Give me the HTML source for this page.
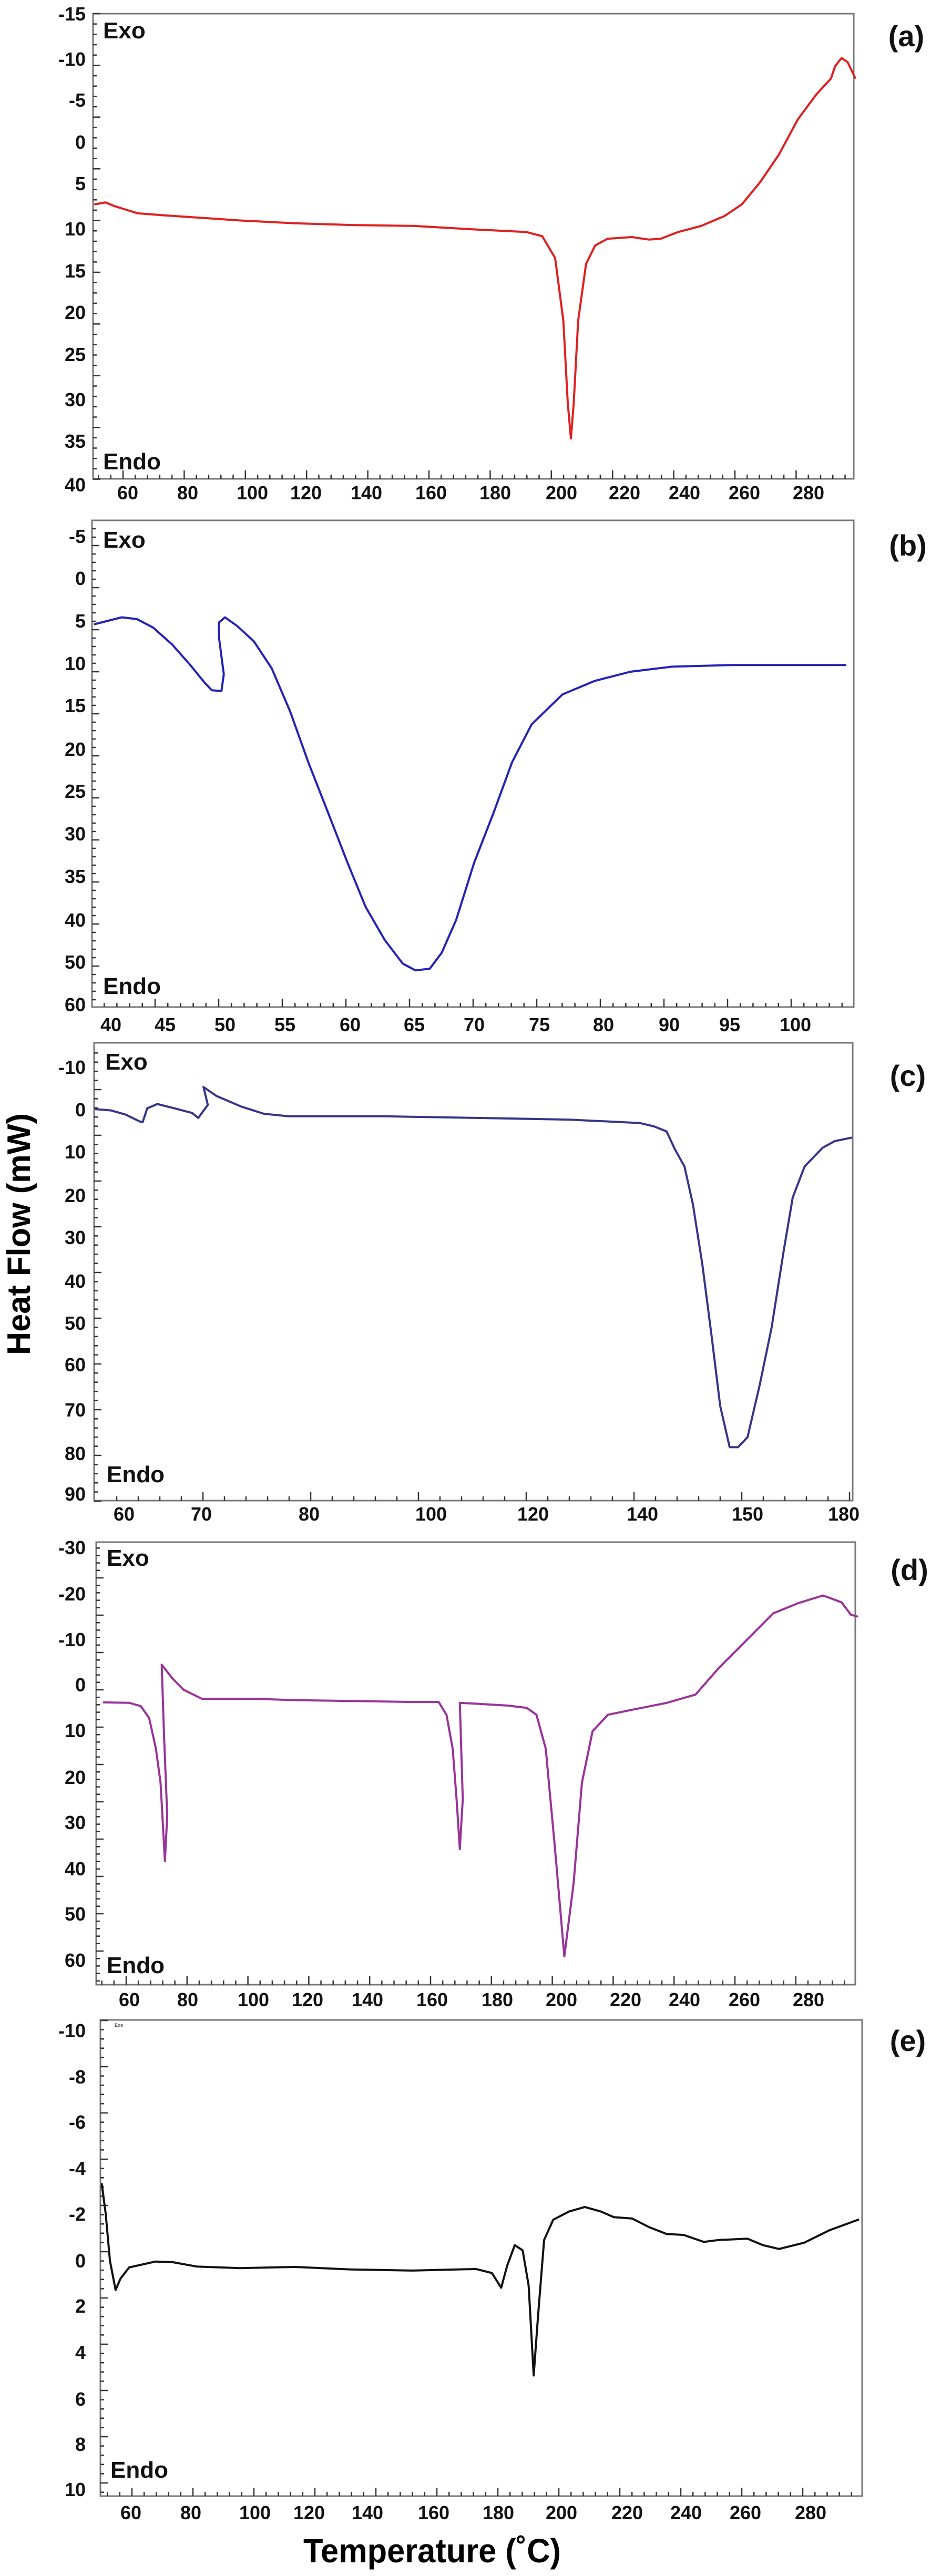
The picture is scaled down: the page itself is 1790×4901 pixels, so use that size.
<!DOCTYPE html>
<html><head><meta charset="utf-8"><style>
html,body{margin:0;padding:0;background:#fff;}
svg{display:block;font-family:"Liberation Sans",Arial,sans-serif;font-weight:bold;}
</style></head><body>
<svg id="fig" xmlns="http://www.w3.org/2000/svg" width="1790" height="4901" viewBox="0 0 1790 4901">
<rect width="1790" height="4901" fill="#fff"/>
<text transform="translate(57,2348) rotate(-90)" text-anchor="middle" font-size="62" textLength="460" lengthAdjust="spacingAndGlyphs" fill="#000">Heat Flow (mW)</text>
<text x="822" y="4875" text-anchor="middle" font-size="64" textLength="490" lengthAdjust="spacingAndGlyphs" fill="#000">Temperature (˚C)</text>
</svg>
<script>
// ---- data: panel (a)
const aTemp=[49.1,52.6,55.5,63.3,71.1,96.3,115.7,135.1,154.5,173.9,189.4,194.2,198.1,200.6,202.0,203.0,203.9,205.3,207.8,210.7,214.6,222.4,228.2,232.1,237.9,245.6,253.4,259.2,265.0,270.8,276.7,282.5,287.0,288.3,290.3,292.2,294.5];
const aFlow=[7.3,7.1,7.5,8.3,8.5,9.1,9.4,9.6,9.7,10.1,10.4,10.9,13.5,21.0,30.4,34.7,30.4,21.0,14.2,12.0,11.2,11.0,11.3,11.2,10.4,9.7,8.6,7.3,4.8,1.5,-2.7,-5.7,-7.6,-9.1,-10.1,-9.6,-7.7];
const aYTicks=[-15,-10,-5,0,5,10,15,20,25,30,35,40];
const aXTicks=[60,80,100,120,140,160,180,200,220,240,260,280];
// ---- data: panel (b)
const bTemp=[38.5,41.0,42.4,43.9,45.6,47.1,48.3,48.9,49.7,49.9,49.5,49.5,50.0,51.0,52.4,53.9,55.4,56.8,58.3,59.8,61.2,62.7,64.1,65.1,66.3,67.3,68.5,70.0,71.5,72.9,74.4,76.8,79.3,84.1,90.2,95.2,103.8];
const bFlow=[5.4,4.6,4.8,5.8,7.8,10.2,12.3,13.2,13.3,11.3,7.0,5.2,4.6,5.6,7.4,10.6,15.7,21.6,27.5,33.4,38.5,44.8,50.4,52,51.6,47.8,40,33.4,27.5,21.6,17.2,13.7,12.1,11.0,10.4,10.2,10.2];
const bYTicks=[-5,0,5,10,15,20,25,30,35,40,50,60];
const bXTicks=[40,45,50,55,60,65,70,75,80,90,95,100];
// ---- data: panel (c)
const cTemp=[56.3,58.3,60.2,62.0,62.4,63.0,64.3,66.5,68.8,69.6,70.6,70.2,71.4,73.7,75.8,78.1,80.5,92.3,109.6,126.8,139.5,141.1,142.3,143.1,144.0,144.8,145.7,146.6,147.4,148.3,149.1,150,153.8,157.5,161.3,164.1,167.8,173.4,177.2,182.4];
const cFlow=[-0.1,0.2,1.2,2.8,3.0,-0.3,-1.3,-0.3,0.8,2.0,-1.1,-5.3,-3.2,-0.7,1.0,1.6,1.6,1.6,2.0,2.4,3.2,4.0,5.2,9.5,13.4,22.1,36.2,53.5,69.2,78.6,78.6,76.3,64.5,51.1,33.0,20.5,13.4,9.1,7.5,6.7];
const cYTicks=[-10,0,10,20,30,40,50,60,70,80,90];
const cXTicks=[60,70,80,100,120,140,150,180];
// ---- data: panel (d)
const dTemp=[51.3,60,63.9,66.8,69.1,70.7,72.2,73.0,71.9,71.1,74.6,78.5,84.3,99.8,115.4,134.8,154.3,162.0,164.4,166.3,167.5,168.5,169.4,168.5,173.7,183.4,189.2,192.2,195.1,198.0,200.9,203.8,206.4,209.7,214.5,222.3,234.0,243.7,251.5,261.2,269.0,276.7,284.5,290.3,293.2,295.2];
const dFlow=[3.9,4.0,4.7,7.3,13.9,21.2,38.4,28.5,11.0,-4.4,-1.5,1.1,3.1,3.1,3.4,3.6,3.8,3.8,6.6,13.9,24.9,35.8,24.9,4.0,4.2,4.6,5.1,6.6,13.9,35.8,59.2,43.2,21.2,10.2,6.6,5.5,4.0,2.2,-3.7,-10.2,-15.7,-17.9,-19.6,-18.1,-15.4,-15.0];
const dYTicks=[-30,-20,-10,0,10,20,30,40,50,60];
const dXTicks=[60,80,100,120,140,160,180,200,220,240,260,280];
// ---- data: panel (e)
const eTemp=[50.3,51.6,53.0,54.9,56.5,59.4,68.2,74.0,81.8,95.4,114.8,134.2,153.7,173.1,178.0,180.9,182.8,185.2,187.7,189.6,191.2,192.6,194.5,197.4,202.3,207.1,212.0,215.9,221.7,227.5,233.4,239.2,246.0,250.9,260.6,265.4,270.3,278.1,285.8,294.6];
const eFlow=[-3.3,-2.0,0,1.3,0.8,0.3,0.04,0.07,0.26,0.33,0.28,0.39,0.44,0.37,0.55,1.2,0.22,-0.66,-0.44,1.1,5.0,2.4,-0.88,-1.75,-2.1,-2.3,-2.1,-1.86,-1.8,-1.43,-1.14,-1.1,-0.8,-0.88,-0.94,-0.66,-0.5,-0.77,-1.3,-1.75];
const eYTicks=[-10,-8,-6,-4,-2,0,2,4,6,8,10];
const eXTicks=[60,80,100,120,140,160,180,200,220,240,260,280];

// ---- layout (pixel geometry only)
const panels=[
 {id:'a',T:aTemp,F:aFlow,yv:aYTicks,xv:aXTicks,color:'#e02020',box:[177,26,1624,911],
  yp:[26,112,190,270,349,435,515,594,674,760,839,922],xp:[243,357,480,582,697,820,942,1068,1188,1302,1416,1538],xly:950,
  ty:[26,98.4],tx:[234,116.4],exo:[196,73],endo:[196,893],lab:[1724,88]},
 {id:'b',T:bTemp,F:bFlow,yv:bYTicks,xv:bXTicks,color:'#2323b8',box:[175,990,1624,1916],
  yp:[1020,1100,1181,1262,1342,1425,1505,1586,1667,1750,1830,1911],xp:[211,314,428,542,666,788,902,1026,1148,1273,1388,1513],xly:1962,
  ty:[1038,80],tx:[295,121],exo:[196,1042],endo:[196,1891],lab:[1727,1057]},
 {id:'c',T:cTemp,F:cFlow,yv:cYTicks,xv:cXTicks,color:'#35358a',box:[179,1984,1622,2855],
  yp:[2030,2111,2191,2274,2354,2437,2517,2596,2682,2765,2842],xp:[236,383,588,820,1014,1222,1422,1605],xly:2893,
  ty:[2073,87],tx:[386,205],exo:[200,2035],endo:[203,2820],lab:[1727,2066]},
 {id:'d',T:dTemp,F:dFlow,yv:dYTicks,xv:dXTicks,color:'#993399',box:[183,2934,1627,3776],
  yp:[2944,3032,3119,3205,3292,3381,3467,3555,3641,3729],xp:[246,357,482,585,699,822,946,1068,1190,1302,1416,1538],xly:3817,
  ty:[3002,71],tx:[240,115.8],exo:[203,2979],endo:[203,3754],lab:[1730,3006]},
 {id:'e',T:eTemp,F:eFlow,yv:eYTicks,xv:eXTicks,color:'#111111',box:[191,3843,1640,4749],
  yp:[3863,3951,4037,4125,4212,4301,4387,4475,4564,4650,4736],xp:[249,363,485,588,699,825,948,1068,1193,1305,1418,1542],xly:4793,
  ty:[3844,88],tx:[251,116],exo:null,endo:[210,4714],lab:[1727,3902]}
];
const NS='http://www.w3.org/2000/svg';
const svg=document.getElementById('fig');
function mk(tag,attrs,parent){const e=document.createElementNS(NS,tag);for(const k in attrs)e.setAttribute(k,attrs[k]);(parent||svg).appendChild(e);return e;}
function interp(vals,pos,v){
  let i=0;
  if(v<=vals[0])i=0;else if(v>=vals[vals.length-1])i=vals.length-2;else{while(v>vals[i+1])i++;}
  const t=(v-vals[i])/(vals[i+1]-vals[i]);return pos[i]+t*(pos[i+1]-pos[i]);
}
panels.forEach(p=>{
  const g=mk('g',{});
  
  
  const [L,T,R,B]=p.box;
  const frame=mk('rect',{x:L,y:T,width:R-L,height:B-T,fill:'none',stroke:'#777',"stroke-width":3},g);
  
  
  // ticks
  let d='';
  for(let y=p.ty[0];y<=B+1;y+=p.ty[1]){d+=`M${L},${y}h14`;for(let k=1;k<5;k++){const yy=y+k*p.ty[1]/5;if(yy<B)d+=`M${L},${yy}h7`;}}
  for(let x=p.tx[0];x<=R+1;x+=p.tx[1]){d+=`M${x},${B}v-16`;for(let k=1;k<5;k++){const xx=x+k*p.tx[1]/5;if(xx<R)d+=`M${xx},${B}v-8`;}}
  for(let k=1;k<5;k++){const yy=p.ty[0]-k*p.ty[1]/5;if(yy>T)d+=`M${L},${yy}h7`;const xx=p.tx[0]-k*p.tx[1]/5;if(xx>L)d+=`M${xx},${B}v-8`;}
  const tk=mk('path',{d:d,stroke:'#333',"stroke-width":2.5,fill:'none'},g);
  
  
  p.yv.forEach((v,i)=>{
    const t=mk('text',{x:163,y:p.yp[i]+13,"text-anchor":'end',"font-size":36,fill:'#111'},g);
    
    
    t.textContent=String(v);
  });
  p.xv.forEach((v,i)=>{
    const t=mk('text',{x:p.xp[i],y:p.xly,"text-anchor":'middle',"font-size":36,fill:'#111'},g);
    
    
    t.textContent=String(v);
  });
  const pts=p.T.map((tv,i)=>interp(p.xv,p.xp,tv).toFixed(1)+','+interp(p.yv,p.yp,p.F[i]).toFixed(1)).join(' ');
  const line=mk('polyline',{points:pts,fill:'none',stroke:p.color,"stroke-width":4,"stroke-linejoin":'round',"stroke-linecap":'round'},g);
  
  
  if(p.exo){
    const ex=mk('text',{x:p.exo[0],y:p.exo[1],"font-size":44,fill:'#111'},g);
    
    
    ex.textContent='Exo';
  } else {
    const ex=mk('text',{x:218,y:3856,"font-size":9,fill:'#555'},g);
    
    
    ex.textContent='Exo';
  }
  const en=mk('text',{x:p.endo[0],y:p.endo[1],"font-size":44,fill:'#111'},g);
  
  
  en.textContent='Endo';
  const lb=mk('text',{x:p.lab[0],y:p.lab[1],"text-anchor":'middle',"font-size":56,fill:'#111'},g);
  
  
  lb.textContent='('+p.id+')';
});
</script>
</body></html>
